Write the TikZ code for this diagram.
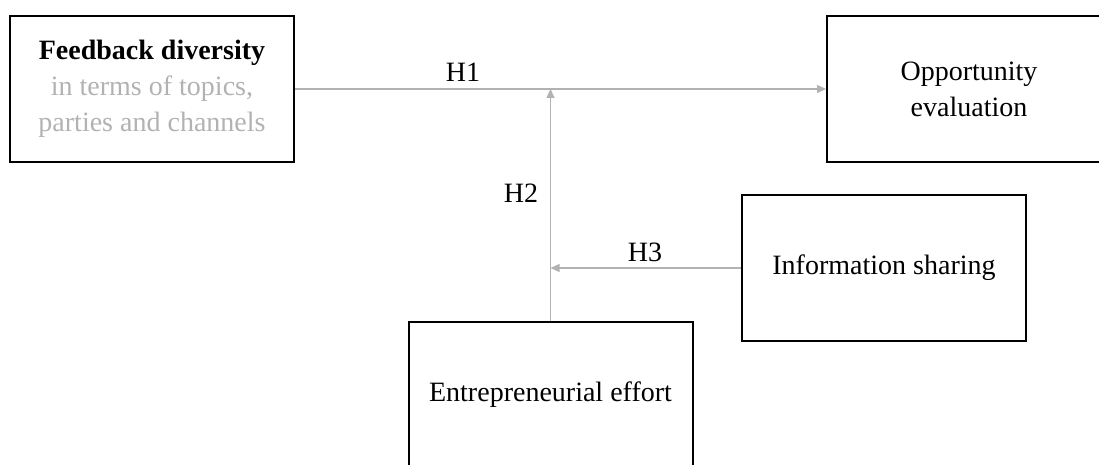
\documentclass[tikz,border=0pt]{standalone}
\usepackage{fontspec}
\setmainfont{Liberation Serif}
\usepackage{tikz}
\usetikzlibrary{calc,arrows.meta}
\definecolor{linegray}{RGB}{178,178,178}

\begin{document}
\begin{tikzpicture}[x=0.5pt,y=0.5pt,
    box/.style={draw=black,line width=1pt,minimum width=142pt,minimum height=73pt,
      align=center,inner sep=0pt,font=\fontsize{14}{18}\selectfont},
    link/.style={draw=linegray,line width=0.6pt,
      -{Triangle[length=4.5pt,width=4pt,fill=linegray]}},
    hyp/.style={font=\fontsize{14}{17}\selectfont,inner sep=1pt}]
    \useasboundingbox (0,0) rectangle (1099,-465);
    \clip (0,0) rectangle (1099,-465);
    \node[box] (FD) at (152,-89) {\textbf{Feedback diversity}\\
      \textcolor{linegray}{in terms of topics,}\\
      \textcolor{linegray}{parties and channels}};
    \node[box] (OE) at (969,-89) {Opportunity\\evaluation};
    \node[box] (IS) at (884,-268) {Information sharing};
    \node[box] (EE) at (550.5,-395) {Entrepreneurial effort};
    \coordinate (M2) at (EE.north |- FD.east);
    \coordinate (M3) at (EE.north |- IS.west);
    \draw[link] (FD.east) -- (OE.west);
    \draw[link] (EE.north) -- (M2);
    \draw[link] (IS.west) -- (M3);
    \node[hyp] at (463,-72) {H1};
    \node[hyp] at (521,-193) {H2};
    \node[hyp] at (645,-252) {H3};
  \end{tikzpicture}
\end{document}
